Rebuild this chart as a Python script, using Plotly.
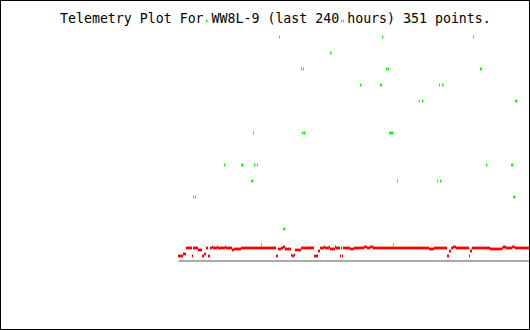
import plotly.graph_objects as go

# Red telemetry series: one value per sample (351 samples)
red_values = [
    5, 5, 5, 5, 5, 7, 7, 7, 13, 13,
    13, 13, 13, 13, 5, 13, 13, 13, 13, 13,
    11, 11, 11, 11, 5, 5, 7, 7, 13, 13,
    5, 5, 13, 13, 14, 13, 13, 13, 13, 14,
    13, 13, 13, 13, 13, 13, 13, 14, 13, 13,
    13, 13, 13, 13, 11, 11, 12, 12, 12, 12,
    12, 12, 12, 13, 13, 13, 13, 13, 13, 13,
    13, 13, 13, 13, 13, 13, 13, 13, 13, 13,
    13, 13, 13, 13, 13, 13, 13, 13, 13, 13,
    13, 13, 13, 13, 13, 13, 13, 13, 5, 5,
    12, 12, 12, 13, 13, 14, 14, 12, 12, 12,
    12, 12, 12, 6, 5, 5, 6, 11, 11, 11,
    11, 11, 11, 13, 13, 13, 13, 13, 13, 13,
    13, 13, 13, 13, 13, 13, 5, 5, 5, 5,
    10, 10, 13, 13, 13, 13, 14, 13, 13, 13,
    13, 14, 12, 12, 12, 12, 12, 14, 13, 13,
    13, 13, 5, 13, 5, 13, 13, 13, 13, 13,
    13, 13, 12, 12, 12, 12, 13, 13, 13, 13,
    13, 13, 13, 13, 13, 13, 14, 14, 14, 13,
    13, 13, 14, 14, 14, 13, 13, 13, 13, 13,
    13, 13, 13, 13, 13, 13, 13, 13, 13, 13,
    13, 13, 13, 13, 13, 13, 13, 13, 13, 13,
    13, 13, 13, 13, 13, 13, 13, 13, 13, 13,
    13, 13, 13, 13, 13, 13, 13, 13, 13, 13,
    13, 13, 13, 13, 13, 13, 13, 13, 13, 13,
    13, 12, 12, 12, 12, 12, 13, 13, 13, 13,
    13, 13, 13, 13, 13, 13, 13, 13, 13, 5,
    5, 10, 10, 13, 13, 14, 14, 14, 13, 13,
    13, 13, 13, 13, 13, 13, 13, 13, 13, 13,
    13, 5, 10, 10, 13, 13, 13, 13, 13, 13,
    13, 13, 13, 13, 13, 13, 13, 13, 13, 13,
    13, 13, 12, 12, 12, 12, 12, 12, 12, 12,
    12, 12, 12, 12, 13, 14, 14, 14, 13, 13,
    13, 13, 13, 13, 14, 14, 14, 13, 13, 13,
    13, 13, 13, 13, 13, 13, 13, 13, 13, 13,
    13,
]
red_samples = list(range(len(red_values)))

# Green series: sparse readings (sample index, value)
green_samples = [
    28, 44, 163, 165, 183, 232,
    101, 204, 295,
    152,
    123, 125, 208, 210, 302, 303,
    182, 202, 203, 261, 264,
    241, 244, 337, 338,
    75, 124, 126, 211, 212, 213, 214,
    46, 63, 64, 76, 79, 308, 333, 334,
    73, 74, 219, 259, 262,
    15, 17, 335, 336,
    105, 106,
    83, 215,
]
green_values = [
    240, 240, 240, 240, 240, 240,
    224, 224, 224,
    208,
    192, 192, 192, 192, 192, 192,
    176, 176, 176, 176, 176,
    160, 160, 160, 160,
    128, 128, 128, 128, 128, 128, 128,
    96, 96, 96, 96, 96, 96, 96, 96,
    80, 80, 80, 80, 80,
    64, 64, 64, 64,
    32, 32,
    16, 16,
]

baseline_samples = [0, 352]
baseline_values = [0, 0]

title_text = "Telemetry Plot For WW8L-9 (last 240 hours) 351 points."

fig = go.Figure()
fig.add_trace(go.Scatter(
    x=baseline_samples, y=baseline_values, mode="lines",
    line=dict(color="#aaaaaa", width=2), hoverinfo="skip",
))
fig.add_trace(go.Scatter(
    x=red_samples, y=red_values, mode="markers",
    marker=dict(symbol="line-ns", size=2, color="#ff0000",
                line=dict(color="#ff0000", width=1)),
))
fig.add_trace(go.Scatter(
    x=green_samples, y=green_values, mode="markers",
    marker=dict(symbol="line-ns", size=2, color="#00ff00",
                line=dict(color="#00ff00", width=1)),
))

fig.update_layout(
    width=530, height=330, autosize=False,
    margin=dict(l=0, r=0, t=0, b=0, pad=0),
    paper_bgcolor="white", plot_bgcolor="white",
    showlegend=False,
    xaxis=dict(range=[-178.5, 351.5], visible=False, showgrid=False, zeroline=False, fixedrange=True),
    yaxis=dict(range=[-69, 261], visible=False, showgrid=False, zeroline=False, fixedrange=True),
    annotations=[dict(
        text=title_text, xref="paper", yref="paper",
        x=57.5 / 530, y=1 - 9 / 330, xanchor="left", yanchor="top",
        showarrow=False,
        font=dict(family="DejaVu Sans Mono", size=13.25, color="black"),
    )],
    shapes=[dict(
        type="rect", xref="paper", yref="paper", x0=0, y0=0, x1=1, y1=1,
        line=dict(color="black", width=2), fillcolor="rgba(0,0,0,0)",
    )],
)

fig.write_html("out.html")
